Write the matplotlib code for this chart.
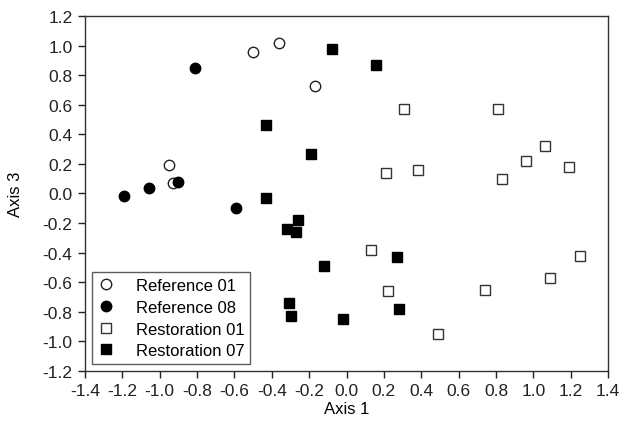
import matplotlib.pyplot as plt
import numpy as np

plt.rcParams['font.family'] = ['Liberation Sans', 'DejaVu Sans']

ref01_x = [-0.50, -0.36, -0.17, -0.95, -0.93]
ref01_y = [0.96, 1.02, 0.73, 0.19, 0.07]

ref08_x = [-1.19, -1.06, -0.90, -0.81, -0.59]
ref08_y = [-0.02, 0.04, 0.08, 0.85, -0.10]

res01_x = [0.31, 0.81, 1.06, 0.96, 1.19, 0.83, 0.21, 0.38, 0.13, 0.22, 1.25, 1.09, 0.74, 0.49]
res01_y = [0.57, 0.57, 0.32, 0.22, 0.18, 0.10, 0.14, 0.16, -0.38, -0.66, -0.42, -0.57, -0.65, -0.95]

res07_x = [-0.08, 0.16, -0.43, -0.19, -0.43, -0.32, -0.26, -0.27, -0.12, -0.31, -0.30, -0.02, 0.27, 0.28]
res07_y = [0.98, 0.87, 0.46, 0.27, -0.03, -0.24, -0.18, -0.26, -0.49, -0.74, -0.83, -0.85, -0.43, -0.78]

xt = np.round(np.arange(-1.4, 1.41, 0.2), 1)
yt = np.round(np.arange(-1.2, 1.21, 0.2), 1)

fig = plt.figure(figsize=(6.25, 4.39), dpi=100)
ax = fig.add_axes([0.136, 0.153, 0.837, 0.808])

ax.plot(ref01_x, ref01_y, 'o', ms=7.5, mfc='white', mec='#222222', mew=1.0, label='Reference 01')
ax.plot(ref08_x, ref08_y, 'o', ms=7.5, mfc='black', mec='black', label='Reference 08')
ax.plot(res01_x, res01_y, 's', ms=6.5, mfc='white', mec='#333333', mew=1.0, label='Restoration 01')
ax.plot(res07_x, res07_y, 's', ms=6.5, mfc='black', mec='black', label='Restoration 07')

ax.set_xlim(-1.4, 1.4)
ax.set_ylim(-1.2, 1.2)
ax.set_xticks(xt)
ax.set_yticks(yt)
ax.set_xticklabels([f'{v + 0:.1f}' for v in xt])
ax.set_yticklabels([f'{v + 0:.1f}' for v in yt])
ax.tick_params(direction='out', length=5, width=1, labelsize=12.5, colors='#222222', pad=4)
for s in ax.spines.values():
    s.set_color('#333333')
    s.set_linewidth(1.0)

ax.set_xlabel('Axis 1', fontsize=12, labelpad=2)
ax.set_ylabel('Axis 3', fontsize=12, labelpad=14)

leg = ax.legend(loc='lower left', fontsize=12, frameon=True, fancybox=False,
                edgecolor='#333333', handletextpad=1.3, borderaxespad=0.4,
                labelspacing=0.4, handlelength=1.0, borderpad=0.35)
leg.get_frame().set_linewidth(1.0)

fig.savefig('out.png')
